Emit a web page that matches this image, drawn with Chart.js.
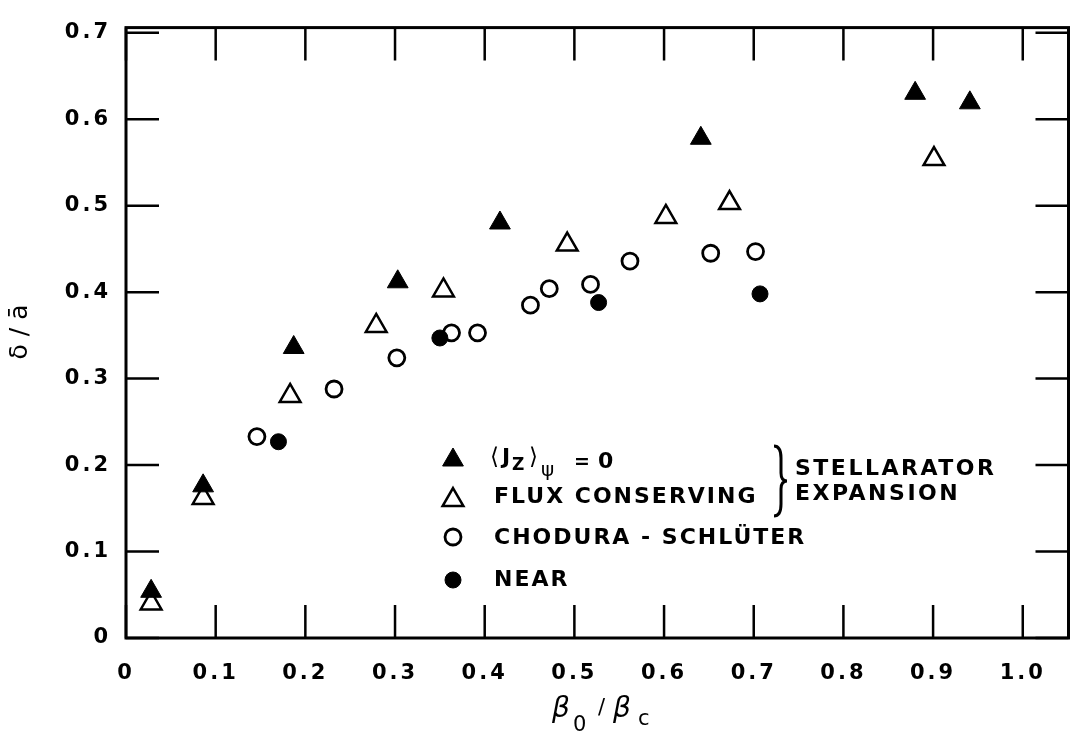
<!DOCTYPE html>
<html>
<head>
<meta charset="utf-8">
<script src="https://cdn.jsdelivr.net/npm/chart.js@4.4.1/dist/chart.umd.min.js"></script>
<style>
  html, body { margin: 0; padding: 0; background: #fff; }
  #wrap { width: 1083px; height: 735px; }
</style>
</head>
<body>
<div id="wrap"><canvas id="chart" width="1083" height="735"></canvas></div>
<script>
// --- Data (x = beta0/betac, y = delta/a) ---
const jzZeroX = [0.028, 0.086, 0.187, 0.303, 0.417, 0.641, 0.880, 0.941];
const jzZeroY = [0.054, 0.176, 0.336, 0.412, 0.480, 0.578, 0.630, 0.619];

const fluxX = [0.028, 0.086, 0.183, 0.279, 0.354, 0.492, 0.602, 0.673, 0.901];
const fluxY = [0.040, 0.162, 0.280, 0.361, 0.402, 0.455, 0.487, 0.503, 0.554];

const choduraX = [0.146, 0.232, 0.302, 0.363, 0.392, 0.451, 0.472, 0.518, 0.562, 0.652, 0.702];
const choduraY = [0.233, 0.288, 0.324, 0.353, 0.353, 0.385, 0.404, 0.409, 0.436, 0.445, 0.447];

const nearX = [0.170, 0.350, 0.527, 0.707];
const nearY = [0.227, 0.347, 0.388, 0.398];

const xTicks = [0, 0.1, 0.2, 0.3, 0.4, 0.5, 0.6, 0.7, 0.8, 0.9, 1.0];
const xTickLabels = ['0', '0.1', '0.2', '0.3', '0.4', '0.5', '0.6', '0.7', '0.8', '0.9', '1.0'];
const yTicks = [0, 0.1, 0.2, 0.3, 0.4, 0.5, 0.6, 0.7];
const yTickLabels = ['0', '0.1', '0.2', '0.3', '0.4', '0.5', '0.6', '0.7'];

const legendLabels = ['FLUX CONSERVING', 'CHODURA - SCHL\u00DCTER', 'NEAR'];
const groupLabels = ['STELLARATOR', 'EXPANSION'];

const FONT = 'DejaVu Sans';
const TICK = 33;

function pts(xs, ys) { return xs.map((v, i) => ({ x: v, y: ys[i] })); }

// --- marker drawing for the legend (same geometry as Chart.js point styles) ---
function triangle(ctx, cx, cy, r, filled) {
    ctx.beginPath();
    ctx.moveTo(cx, cy - r);
    ctx.lineTo(cx + r * Math.sqrt(3) / 2, cy + r / 2);
    ctx.lineTo(cx - r * Math.sqrt(3) / 2, cy + r / 2);
    ctx.closePath();
    ctx.fillStyle = filled ? '#000' : '#fff';
    ctx.fill();
    ctx.lineWidth = filled ? 1 : 2.5;
    ctx.stroke();
}
function circle(ctx, cx, cy, r, filled) {
    ctx.beginPath();
    ctx.arc(cx, cy, r, 0, Math.PI * 2);
    ctx.fillStyle = filled ? '#000' : '#fff';
    ctx.fill();
    ctx.lineWidth = filled ? 1 : 2.8;
    ctx.stroke();
}

const framePlugin = {
    id: 'frame',
    beforeDraw(chart) {
        // wide lettering for the tick labels
        chart.ctx.letterSpacing = '3px';
    },
    beforeDatasetsDraw(chart) {
        const { ctx, chartArea: a, scales: { x, y } } = chart;
        ctx.save();
        ctx.strokeStyle = '#000';
        ctx.lineWidth = 3;
        ctx.strokeRect(a.left, a.top, a.right - a.left, a.bottom - a.top);
        ctx.lineWidth = 2.5;
        ctx.beginPath();
        xTicks.forEach(v => {
            const px = x.getPixelForValue(v);
            ctx.moveTo(px, a.bottom); ctx.lineTo(px, a.bottom - TICK);
            ctx.moveTo(px, a.top); ctx.lineTo(px, a.top + TICK);
        });
        yTicks.forEach(v => {
            const py = y.getPixelForValue(v);
            ctx.moveTo(a.left, py); ctx.lineTo(a.left + TICK, py);
            ctx.moveTo(a.right, py); ctx.lineTo(a.right - TICK, py);
        });
        ctx.stroke();
        ctx.restore();
    },
    afterDraw(chart) {
        const { ctx } = chart;
        ctx.save();
        ctx.fillStyle = '#000';
        ctx.strokeStyle = '#000';
        ctx.textBaseline = 'alphabetic';
        ctx.textAlign = 'left';

        // x axis title: beta_0 / beta_c
        ctx.letterSpacing = '0px';
        ctx.font = 'italic 28px "' + FONT + '"';
        ctx.fillText('\u03B2', 552, 717);
        ctx.fillText('\u03B2', 613, 717);
        ctx.font = '21px "' + FONT + '"';
        ctx.fillText('0', 573, 731);
        ctx.fillText('c', 638, 725);
        ctx.fillText('/', 598, 714);

        // y axis title: delta / a-bar
        ctx.save();
        ctx.translate(20, 332);
        ctx.rotate(-Math.PI / 2);
        ctx.textAlign = 'center';
        ctx.textBaseline = 'middle';
        ctx.font = '25px "' + FONT + '"';
        ctx.fillText('\u03B4 / \u0101', 0, 0);
        ctx.restore();

        // legend markers
        const mx = 453;
        triangle(ctx, mx, 460, 12, true);
        triangle(ctx, mx, 500, 12, false);
        circle(ctx, mx, 537, 8, false);
        circle(ctx, mx, 580, 8, true);

        // legend texts
        const tx = 494;
        ctx.textBaseline = 'middle';
        ctx.font = 'bold 22px "' + FONT + '"';
        ctx.letterSpacing = '2px';
        ctx.fillText(legendLabels[0], tx, 497);
        ctx.fillText(legendLabels[1], tx, 538);
        ctx.fillText(legendLabels[2], tx, 580);

        // first entry: <J_Z>_psi = 0, built from pieces
        ctx.letterSpacing = '0px';
        ctx.font = '23px "' + FONT + '"';
        ctx.fillText('\u27E8', tx - 4, 458);
        ctx.fillText('\u27E9', tx + 35, 458);
        ctx.font = 'bold 22px "' + FONT + '"';
        ctx.fillText('J', tx + 8, 458);
        ctx.fillText('0', tx + 104, 462);
        ctx.font = 'bold 19px "' + FONT + '"';
        ctx.fillText('=', tx + 80, 463);
        ctx.font = 'bold 17px "' + FONT + '"';
        ctx.fillText('Z', tx + 18, 466);
        ctx.font = '20px "' + FONT + '"';
        ctx.fillText('\u03C8', tx + 47, 471);

        // brace and group label
        const bx = 774, top = 446, mid = 481, bot = 516;
        ctx.lineWidth = 3;
        ctx.beginPath();
        ctx.moveTo(bx, top);
        ctx.quadraticCurveTo(bx + 7, top, bx + 7, top + 12);
        ctx.lineTo(bx + 7, mid - 8);
        ctx.quadraticCurveTo(bx + 7, mid, bx + 13, mid);
        ctx.quadraticCurveTo(bx + 7, mid, bx + 7, mid + 8);
        ctx.lineTo(bx + 7, bot - 12);
        ctx.quadraticCurveTo(bx + 7, bot, bx, bot);
        ctx.stroke();

        ctx.font = 'bold 22px "' + FONT + '"';
        ctx.letterSpacing = '2.5px';
        ctx.fillText(groupLabels[0], 795, 469);
        ctx.fillText(groupLabels[1], 795, 494);
        ctx.restore();
    }
};

const ctx = document.getElementById('chart').getContext('2d');

const myChart = new Chart(ctx, {
    type: 'scatter',
    data: {
        datasets: [
            {
                label: '<Jz>psi = 0',
                data: pts(jzZeroX, jzZeroY),
                pointStyle: 'triangle',
                pointRadius: 12,
                backgroundColor: '#000',
                borderColor: '#000',
                borderWidth: 1
            },
            {
                label: 'NEAR',
                data: pts(nearX, nearY),
                pointStyle: 'circle',
                pointRadius: 8,
                backgroundColor: '#000',
                borderColor: '#000',
                borderWidth: 1
            },
            {
                label: 'Chodura-Schluter',
                data: pts(choduraX, choduraY),
                pointStyle: 'circle',
                pointRadius: 8,
                backgroundColor: '#fff',
                borderColor: '#000',
                borderWidth: 2.8
            },
            {
                label: 'Flux conserving',
                data: pts(fluxX, fluxY),
                pointStyle: 'triangle',
                pointRadius: 12,
                backgroundColor: '#fff',
                borderColor: '#000',
                borderWidth: 2.5
            }
        ]
    },
    options: {
        responsive: false,
        devicePixelRatio: 1,
        animation: false,
        events: [],
        layout: { padding: { top: 15, right: 11, left: 0, bottom: 0 } },
        plugins: {
            legend: { display: false },
            tooltip: { enabled: false }
        },
        scales: {
            x: {
                type: 'linear',
                min: 0,
                max: 1.051,
                grid: { display: false, drawTicks: false },
                border: { display: false },
                afterBuildTicks: (scale) => { scale.ticks = xTicks.map(v => ({ value: v })); },
                afterFit: (scale) => { scale.height = 97; },
                ticks: {
                    autoSkip: false,
                    maxRotation: 0,
                    padding: 23,
                    color: '#000',
                    font: { family: FONT, size: 21, weight: 'bold' },
                    callback: (v, i) => xTickLabels[i]
                }
            },
            y: {
                type: 'linear',
                min: 0,
                max: 0.706,
                grid: { display: false, drawTicks: false },
                border: { display: false },
                afterBuildTicks: (scale) => { scale.ticks = yTicks.map(v => ({ value: v })); },
                afterFit: (scale) => { scale.width = 126; },
                ticks: {
                    autoSkip: false,
                    padding: 15,
                    color: '#000',
                    font: { family: FONT, size: 21, weight: 'bold' },
                    callback: (v, i) => yTickLabels[i]
                }
            }
        }
    },
    plugins: [framePlugin]
});
</script>
</body>
</html>
